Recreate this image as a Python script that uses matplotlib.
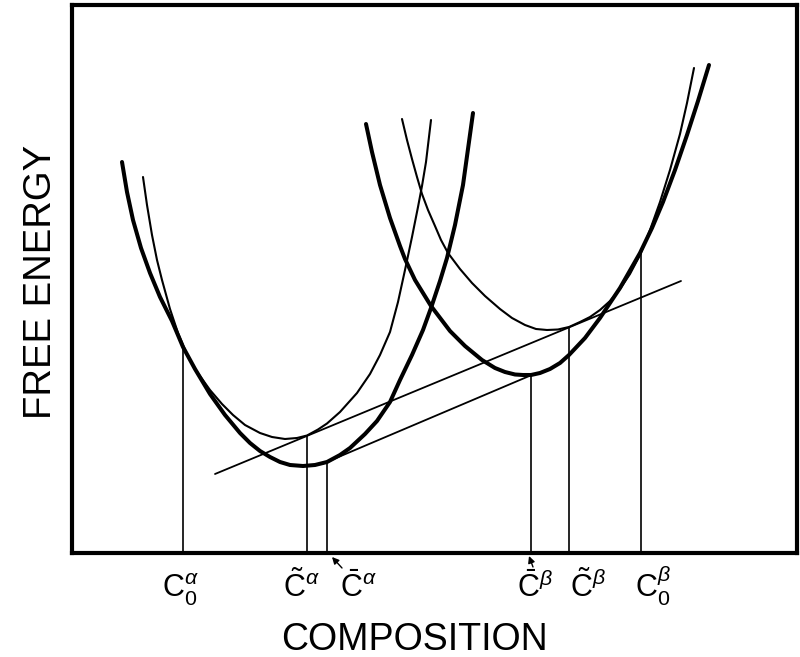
import matplotlib
matplotlib.use("Agg")
import matplotlib.pyplot as plt

plt.rcParams['font.family'] = ['Liberation Sans', 'DejaVu Sans']
plt.rcParams['mathtext.fontset'] = 'custom'
plt.rcParams['mathtext.rm'] = 'Liberation Sans'
plt.rcParams['mathtext.it'] = 'Liberation Sans:italic'
plt.rcParams['mathtext.bf'] = 'Liberation Sans:bold'

# ---- data (composition, free energy in arbitrary units) ----
alpha_thick_c = [50, 55, 61, 69, 78, 88, 100, 111, 123, 138, 153, 168, 178, 188, 198, 208, 218,
                 231, 243, 255, 268, 278, 293, 305, 318, 328, 340, 351, 359, 368, 375, 383, 391, 401]
alpha_thick_g = [391, 361, 333, 305, 280, 256, 232, 206, 184, 159, 138, 120, 110, 102, 96, 91, 88,
                 87, 88, 91, 98, 105, 119, 132, 151, 173, 198, 223, 245, 272, 295, 328, 368, 440]

alpha_thin_c = [71, 75, 80, 85, 90, 98, 106, 114, 123, 138, 150, 161, 173, 188, 200, 213, 225,
                235, 246, 255, 268, 285, 298, 308, 318, 326, 333, 340, 346, 350, 354, 359]
alpha_thin_g = [376, 348, 318, 293, 273, 244, 220, 201, 184, 163, 149, 138, 128, 120, 116, 114, 115,
                117.5, 123.5, 129.5, 141, 160, 179, 198, 221, 251, 283, 316, 346, 367, 391, 433]

beta_thick_c = [294, 300, 308, 318, 328, 333, 343, 359, 378, 393, 410, 423, 433, 443, 451,
                459, 468, 478, 488, 497, 513, 528, 548, 568, 580, 591, 603, 615, 626, 637]
beta_thick_g = [429, 401, 368, 335, 307, 294, 273, 247, 222, 207, 193, 185, 181, 178.5, 178,
                178, 180, 184, 190, 198, 215, 235, 265, 300, 325, 351, 383, 418, 452, 488]

beta_thin_c = [330, 335, 340, 345, 350, 356, 363, 369, 376, 388, 400, 413, 428, 440, 453, 464,
               475, 486, 497, 508, 518, 528, 538, 548, 558, 568, 578, 588, 598, 608, 615, 622]
beta_thin_g = [434, 413, 394, 376, 359, 343, 327, 313, 300, 284, 270, 257, 244, 235, 228, 224,
               223, 223.5, 226, 231, 236, 243, 252, 264, 279, 298, 323, 351, 383, 419, 450, 485]

tangent_upper_c = [143, 609]
tangent_upper_g = [79, 272]
tangent_lower_c = [250, 462]
tangent_lower_g = [89, 179]

# compositions marked by vertical lines and the energy where each line stops
marker_c = [111, 235, 255, 459, 497, 569]
marker_top = [205, 117, 91, 178, 226, 300]

tick_labels = [r'$\mathrm{C}_{\mathrm{0}}^{\alpha}$',
               r'$\tilde{\mathrm{C}}^{\alpha}$',
               r'$\bar{\mathrm{C}}^{\alpha}$',
               r'$\bar{\mathrm{C}}^{\beta}$',
               r'$\tilde{\mathrm{C}}^{\beta}$',
               r'$\mathrm{C}_{\mathrm{0}}^{\beta}$']
tick_label_c = [90, 211, 268, 445, 498, 563]

# ---- figure ----
fig = plt.figure(figsize=(8, 6.57), dpi=100)
ax = fig.add_axes([0.09, 0.1583, 0.90625, 0.8341])
ax.set_xlim(0, 725)
ax.set_ylim(0, 548)
ax.set_xticks([])
ax.set_yticks([])
for s in ax.spines.values():
    s.set_linewidth(3.0)
    s.set_color('black')

kw = dict(color='black', solid_capstyle='round', solid_joinstyle='round')
ax.plot(alpha_thick_c, alpha_thick_g, lw=2.9, **kw)
ax.plot(beta_thick_c, beta_thick_g, lw=2.9, **kw)
ax.plot(alpha_thin_c, alpha_thin_g, lw=1.5, **kw)
ax.plot(beta_thin_c, beta_thin_g, lw=1.5, **kw)
ax.plot(tangent_upper_c, tangent_upper_g, lw=1.3, **kw)
ax.plot(tangent_lower_c, tangent_lower_g, lw=1.3, **kw)

ax.vlines(marker_c, 0, marker_top, colors='black', lw=1.2)

for lbl, c in zip(tick_labels, tick_label_c):
    ax.annotate(lbl, xy=(c, 0), xycoords='data', xytext=(0, -31.7),
                textcoords='offset points', ha='left', va='baseline',
                fontsize=22, annotation_clip=False)

arrow = dict(arrowstyle='-|>', color='black', lw=1.0, mutation_scale=10,
             shrinkA=0, shrinkB=0)
ax.annotate('', xy=(260, -4), xytext=(270, -15), arrowprops=arrow,
            annotation_clip=False)
ax.annotate('', xy=(457, -3), xytext=(461, -14), arrowprops=arrow,
            annotation_clip=False)

ax.set_xlabel('COMPOSITION', fontsize=27)
ax.xaxis.set_label_coords(0.473, -0.1588)
ax.xaxis.label.set_va('center')
ax.set_ylabel('FREE ENERGY', fontsize=27.5)
ax.yaxis.set_label_coords(-0.0428, 0.4945)
ax.yaxis.label.set_va('center')
ax.yaxis.label.set_ha('center')

fig.savefig('out.png', dpi=100)
